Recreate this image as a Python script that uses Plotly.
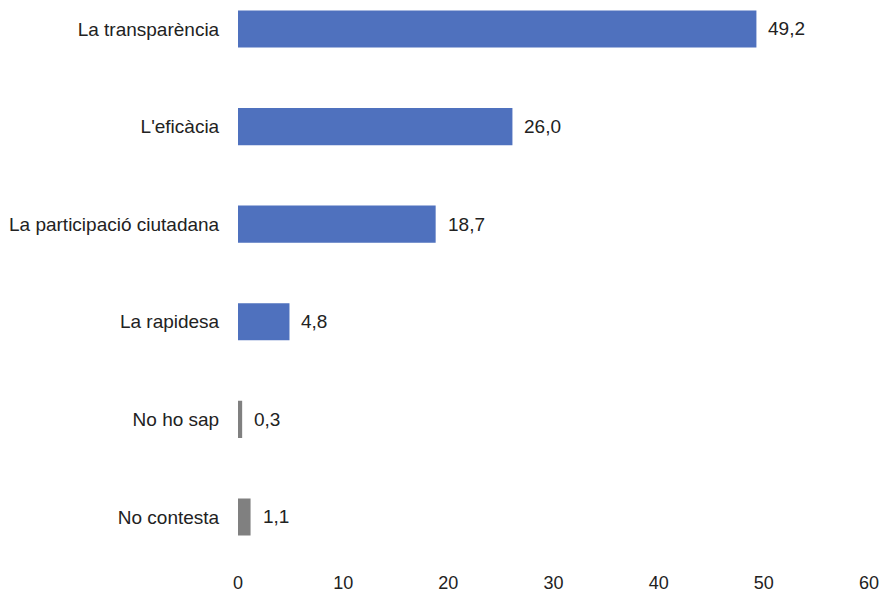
import plotly.graph_objects as go

categories = ["La transparència", "L'eficàcia", "La participació ciutadana",
              "La rapidesa", "No ho sap", "No contesta"]
values = [49.2, 26.0, 18.7, 4.8, 0.3, 1.1]
colors = ["#4F71BE", "#4F71BE", "#4F71BE", "#4F71BE", "#808080", "#808080"]
x_ticks = [0, 10, 20, 30, 40, 50, 60]

positions = list(range(len(categories)))
FONT = "Liberation Sans, Arial, sans-serif"
FONT_SIZE = 19

fig = go.Figure(go.Bar(
    x=values,
    y=positions,
    orientation="h",
    width=0.36,
    marker=dict(color=colors, line=dict(color=colors, width=2)),
    hoverinfo="skip",
))

for pos, val in zip(positions, values):
    fig.add_annotation(
        x=val, y=pos, xref="x", yref="y",
        text=f"{val:.1f}".replace(".", ","),
        showarrow=False, xanchor="left", xshift=11,
        font=dict(family=FONT, size=FONT_SIZE, color="#222222"),
    )

fig.update_layout(
    width=881, height=593,
    margin=dict(l=238, r=12, t=0, b=36),
    paper_bgcolor="white", plot_bgcolor="white",
    showlegend=False,
    font=dict(family=FONT, size=FONT_SIZE, color="#222222"),
    xaxis=dict(range=[0, 60], tickvals=x_ticks, showgrid=False, zeroline=False,
               showline=False, ticks="outside", ticklen=9,
               tickfont=dict(size=18),
               tickcolor="rgba(0,0,0,0)", fixedrange=True, automargin=False),
    yaxis=dict(range=[5.41, -0.297], tickvals=positions, ticktext=categories,
               showgrid=False, zeroline=False, showline=False,
               ticks="outside", ticklen=14, tickcolor="rgba(0,0,0,0)",
               fixedrange=True, automargin=False),
)

fig.write_html("out.html")
